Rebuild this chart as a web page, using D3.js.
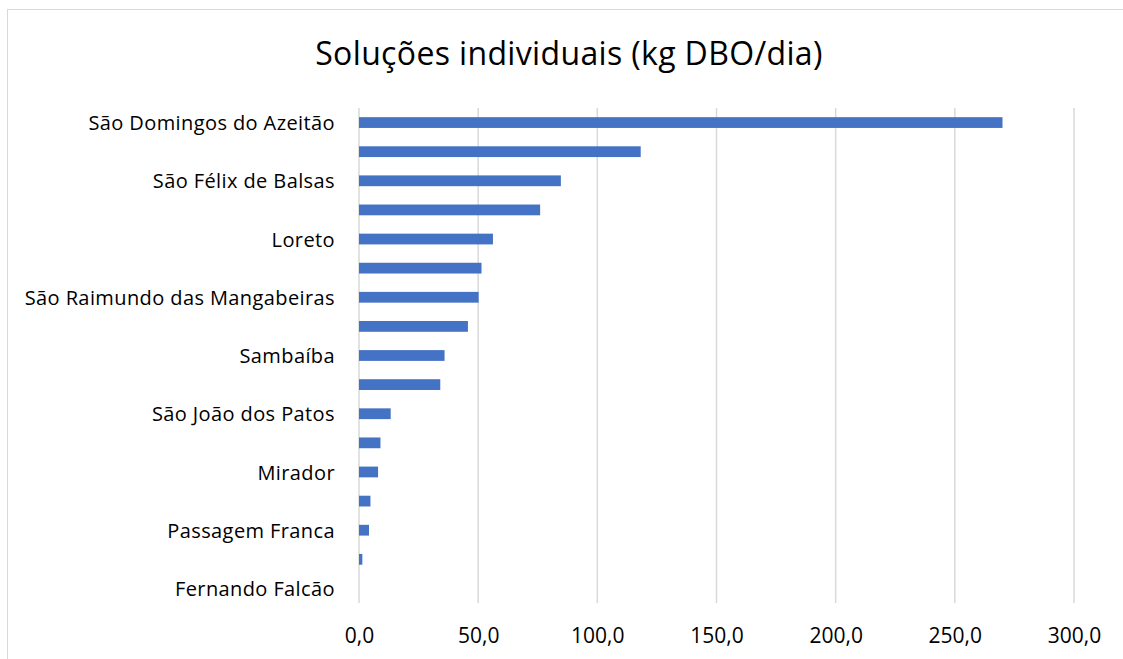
<!DOCTYPE html>
<html>
<head>
<meta charset="utf-8">
<script src="https://cdn.jsdelivr.net/npm/d3@7"></script>
<style>
  body { margin: 0; background: #fff; }
  text { font-family: "Open Sans", sans-serif; fill: #000; }
</style>
</head>
<body>
<svg id="chart"></svg>
<script>
const width = 1123, height = 659;

// municipalities, top to bottom (only every other name is printed in the original)
const categories = [
  "São Domingos do Azeitão", "", "São Félix de Balsas", "", "Loreto", "",
  "São Raimundo das Mangabeiras", "", "Sambaíba", "", "São João dos Patos", "",
  "Mirador", "", "Passagem Franca", "", "Fernando Falcão"
];
const values = [270.0, 118.2, 84.7, 76.0, 56.2, 51.4, 50.2, 45.7, 35.9, 34.1,
  13.3, 9.0, 8.0, 4.8, 4.2, 1.4, 0.0];
const xTicks = [0, 50, 100, 150, 200, 250, 300];

const svg = d3.select("#chart")
  .attr("width", width)
  .attr("height", height);

// chart border
svg.append("rect")
  .attr("x", 7.5).attr("y", 9.5)
  .attr("width", width + 10).attr("height", height + 10)
  .attr("fill", "none")
  .attr("stroke", "#d9d9d9")
  .attr("stroke-width", 1);

svg.append("text")
  .attr("x", 569).attr("y", 65)
  .attr("text-anchor", "middle")
  .style("font-size", "32px")
  .style("letter-spacing", "0.35px")
  .text("Soluções individuais (kg DBO/dia)");

const x = d3.scaleLinear().domain([0, 300]).range([359, 1074]);
const y = d3.scaleBand()
  .domain(d3.range(categories.length))
  .range([108, 603])
  .paddingInner(0.63)
  .paddingOuter(0.315);

// gridlines
svg.append("g")
  .selectAll("line")
  .data(xTicks)
  .enter()
  .append("line")
  .attr("x1", d => x(d)).attr("x2", d => x(d))
  .attr("y1", 108).attr("y2", 603)
  .attr("stroke", "#d9d9d9")
  .attr("stroke-width", 1.5);

svg.append("g")
  .selectAll("rect")
  .data(values)
  .enter()
  .append("rect")
  .attr("x", x(0))
  .attr("y", (d, i) => y(i))
  .attr("width", d => x(d) - x(0))
  .attr("height", y.bandwidth())
  .attr("fill", "#4472c4");

// y labels
const yAxis = d3.axisLeft(y)
  .tickSize(0)
  .tickPadding(24)
  .tickFormat(i => categories[i]);
svg.append("g")
  .attr("transform", `translate(${x(0)},0)`)
  .call(yAxis)
  .call(g => g.select(".domain").remove())
  .selectAll("text")
  .attr("dy", "0.38em")
  .style("font-size", "20px")
  .style("letter-spacing", "0.4px")
  .style("font-family", "'Open Sans', sans-serif");

// x labels
const fmt = d => d3.format(".1f")(d).replace(".", ",");
const xAxis = d3.axisBottom(x)
  .tickValues(xTicks)
  .tickSize(0)
  .tickPadding(0)
  .tickFormat(fmt);
svg.append("g")
  .attr("transform", "translate(0,603)")
  .call(xAxis)
  .call(g => g.select(".domain").remove())
  .selectAll("text")
  .attr("dy", null)
  .attr("y", 39.5)
  .style("font-size", "21px")
  .style("font-family", "'Open Sans', sans-serif");
</script>
</body>
</html>
